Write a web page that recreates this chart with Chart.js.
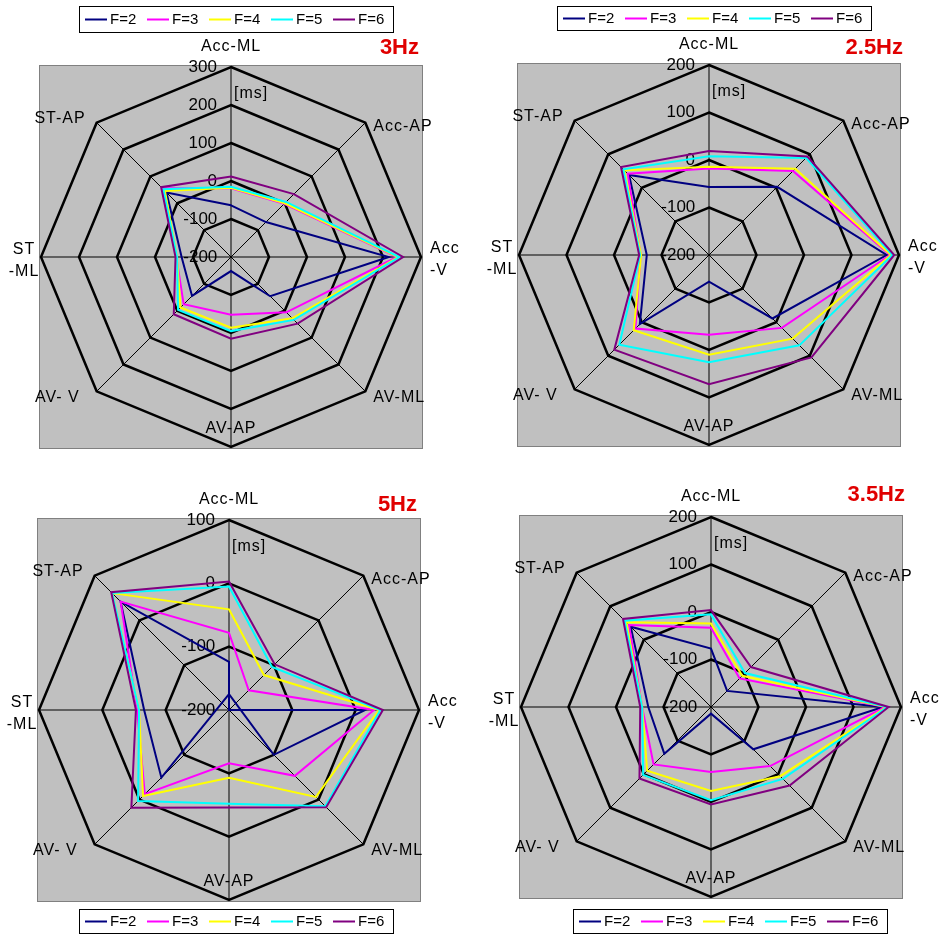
<!DOCTYPE html>
<html>
<head>
<meta charset="utf-8">
<script src="https://cdn.jsdelivr.net/npm/chart.js@4"></script>
<style>
  body { margin: 0; background: #fff; }
  #wrap { position: relative; width: 952px; height: 943px; }
  canvas { position: absolute; }
</style>
</head>
<body>
<div id="wrap">
  <canvas id="c3" width="476" height="470" style="left:0;top:0;width:476px;height:470px"></canvas>
  <canvas id="c25" width="476" height="470" style="left:476px;top:0;width:476px;height:470px"></canvas>
  <canvas id="c5" width="476" height="473" style="left:0;top:470px;width:476px;height:473px"></canvas>
  <canvas id="c35" width="476" height="473" style="left:476px;top:470px;width:476px;height:473px"></canvas>
</div>
<script>
// categories, clockwise from the top
const categories = ['Acc-ML', 'Acc-AP', ['Acc', '-V'], 'AV-ML', 'AV-AP', 'AV- V', ['ST', '-ML'], 'ST-AP'];
const seriesNames = ['F=2', 'F=3', 'F=4', 'F=5', 'F=6'];
const seriesColors = ['#000080', '#ff00ff', '#ffff00', '#00ffff', '#800080'];

// axis ranges [min, max] in ms, step 100
const range3Hz = [-200, 300];
const range25Hz = [-200, 200];
const range5Hz = [-200, 100];
const range35Hz = [-200, 200];

// values per series (rows F=2..F=6), in ms
const values3Hz = [
  [-64, -70, 215, -54, -163, -55, -70, 40],
  [-19, -2, 237, 6, -48, -24, -56, 56],
  [-18, 0, 240, 28, -14, -12, -58, 46],
  [-15, 5, 243, 34, -5, -3, -58, 52],
  [12, 34, 253, 48, 15, 13, -54, 60]
];
const values25Hz = [
  [-57, 3, 174, -11, -144, 6, -69, 38],
  [-18, 50, 181, 17, -32, 19, -56, 42],
  [-14, 57, 183, 49, 10, 24, -57, 52],
  [8, 89, 186, 69, 26, 67, -55, 55],
  [19, 93, 190, 105, 72, 82, -53, 62]
];
const values5Hz = [
  [-124, -200, 15, -100, -225, -49, -66, 42],
  [-78, -156, 29, -53, -116, -12, -55, 42],
  [-41, -122, 37, -6, -93, -8, -58, 61],
  [-5, -104, 39, 15, -52, 3, -58, 61],
  [3, -98, 43, 17, -46, 18, -53, 63]
];
const values35Hz = [
  [-77, -152, 162, -74, -186, -61, -68, 39],
  [-33, -115, 167, -24, -63, -29, -55, 44],
  [-24, -107, 169, 6, -23, -10, -55, 52],
  [-5, -99, 171, 14, -4, 2, -55, 57],
  [4, -81, 174, 34, 5, 13, -51, 62]
];

const FONT = '"Liberation Sans", Arial, sans-serif';

// where each category label sits relative to its outer vertex
const labelPlace = [
  {align: 'center', dx: 0, dy: -20},
  {align: 'left', dx: 8, dy: 4},
  {align: 'left', dx: 9, dy: -8},
  {align: 'left', dx: 8, dy: 6},
  {align: 'center', dx: 0, dy: -18},
  {align: 'right', dx: -17, dy: 6},
  {align: 'center', dx: -17, dy: -7},
  {align: 'right', dx: -11, dy: -4}
];

// tick labels sit right-aligned left of the vertical axis: pad with spaces
const measureCtx = document.createElement('canvas').getContext('2d');
measureCtx.font = '17px ' + FONT;
function tickLabel(value) {
  const s = String(value);
  const n = Math.round((measureCtx.measureText(s).width + 28) / measureCtx.measureText(' ').width);
  return s + ' '.repeat(n);
}

const decor = {
  id: 'decor',
  beforeDraw(chart, args, o) {
    const s = chart.scales.r;
    const ctx = chart.ctx;
    const R = s.drawingArea;
    ctx.save();
    ctx.fillStyle = '#c0c0c0';
    ctx.fillRect(s.xCenter - R - 1, s.yCenter - R - 1, 2 * R + 2, 2 * R + 2);
    ctx.strokeStyle = '#808080';
    ctx.lineWidth = 1;
    ctx.strokeRect(s.xCenter - R - 1.5, s.yCenter - R - 1.5, 2 * R + 3, 2 * R + 3);
    ctx.restore();
  },
  afterDraw(chart, args, o) {
    const s = chart.scales.r;
    const ctx = chart.ctx;
    const R = s.drawingArea;
    ctx.save();
    // category labels
    ctx.font = '16px ' + FONT;
    ctx.fillStyle = '#000';
    ctx.textBaseline = 'middle';
    if ('letterSpacing' in ctx) ctx.letterSpacing = '1px';
    chart.data.labels.forEach((lab, i) => {
      const p = s.getPointPosition(i, R);
      const pl = labelPlace[i];
      ctx.textAlign = pl.align;
      const lines = Array.isArray(lab) ? lab : [lab];
      lines.forEach((t, j) => ctx.fillText(t, p.x + pl.dx, p.y + pl.dy + j * 22));
    });
    // unit
    ctx.textAlign = 'left';
    ctx.fillText('[ms]', s.xCenter + 3, s.yCenter - 163);
    if ('letterSpacing' in ctx) ctx.letterSpacing = '0px';
    // frequency title
    ctx.font = 'bold 22px ' + FONT;
    ctx.fillStyle = '#e00000';
    ctx.textAlign = 'right';
    ctx.fillText(o.title, s.xCenter + o.titleDx, s.yCenter + o.titleDy);
    // legend box
    ctx.strokeStyle = '#000';
    ctx.lineWidth = 1;
    ctx.strokeRect(o.legendX + 0.5, o.legendY + 0.5, 314, o.legendH);
    ctx.font = '15px ' + FONT;
    ctx.fillStyle = '#000';
    ctx.textAlign = 'left';
    const ly = o.legendY + o.legendH / 2 + 0.5;
    chart.data.datasets.forEach((ds, k) => {
      const x0 = o.legendX + 6 + k * 62;
      ctx.strokeStyle = ds.borderColor;
      ctx.lineWidth = 2;
      ctx.beginPath();
      ctx.moveTo(x0, ly);
      ctx.lineTo(x0 + 22, ly);
      ctx.stroke();
      ctx.fillText(ds.label, x0 + 25, ly);
    });
    ctx.restore();
  }
};

function makeChart(id, values, range, padding, decorOpts) {
  return new Chart(document.getElementById(id), {
    type: 'radar',
    data: {
      labels: categories,
      datasets: values.map((v, k) => ({
        label: seriesNames[k],
        data: v,
        borderColor: seriesColors[k],
        backgroundColor: seriesColors[k],
        borderWidth: 2,
        fill: false,
        pointRadius: 0,
        order: values.length - k
      }))
    },
    options: {
      responsive: false,
      animation: false,
      devicePixelRatio: 1,
      layout: {padding: padding},
      elements: {line: {tension: 0}},
      plugins: {
        legend: {display: false},
        tooltip: {enabled: false},
        decor: decorOpts
      },
      scales: {
        r: {
          min: range[0],
          max: range[1],
          beginAtZero: false,
          ticks: {
            stepSize: 100,
            color: '#000',
            font: {size: 17, family: FONT},
            showLabelBackdrop: false,
            callback: tickLabel
          },
          grid: {color: '#000', lineWidth: 2.5, circular: false},
          angleLines: {color: '#000', lineWidth: 1},
          pointLabels: {display: false}
        }
      }
    },
    plugins: [decor]
  });
}

makeChart('c3', values3Hz, range3Hz, {left: 30, top: 56, right: 44, bottom: 12},
  {title: '3Hz', titleDx: 188, titleDy: -209, legendX: 79, legendY: 6, legendH: 26});
makeChart('c25', values25Hz, range25Hz, {left: 32, top: 54, right: 42, bottom: 14},
  {title: '2.5Hz', titleDx: 194, titleDy: -207, legendX: 81, legendY: 6, legendH: 24});
makeChart('c5', values5Hz, range5Hz, {left: 28, top: 39, right: 46, bottom: 32},
  {title: '5Hz', titleDx: 188, titleDy: -205, legendX: 79, legendY: 439, legendH: 24});
makeChart('c35', values35Hz, range35Hz, {left: 34, top: 36, right: 40, bottom: 35},
  {title: '3.5Hz', titleDx: 194, titleDy: -212, legendX: 97, legendY: 439, legendH: 24});
</script>
</body>
</html>
